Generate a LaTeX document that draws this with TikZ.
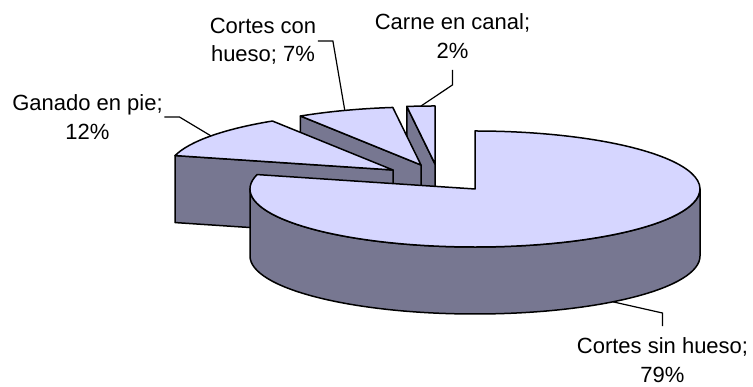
\documentclass[tikz,border=0pt]{standalone}
\usepackage{fontspec}
\setmainfont{Liberation Sans}
\definecolor{lavtop}{RGB}{214,214,255}
\definecolor{lavside}{RGB}{119,119,145}
\begin{document}
\begin{tikzpicture}[x=1pt,y=1pt,
    topface/.style={fill=lavtop,draw=black,line width=1.5pt,line join=round},
    sideface/.style={fill=lavside,draw=black,line width=1.5pt,line join=round},
    leader/.style={draw=black,line width=1.2pt},
    lbl/.style={align=center,inner sep=1.5pt,font=\fontsize{22}{28.4}\selectfont}]
    \useasboundingbox (0,0) rectangle (753,387);
    % centres of the exploded slices
    \coordinate (cCarne) at (435,223);
    \coordinate (cCon) at (421,222);
    \coordinate (cPie) at (393,217);
    \coordinate (cSin) at (475,198);
    % carne en canal, 2%
    \draw[sideface] (cCarne) -- ++(97.2:225 and 58) -- ++(0,-67) -- ([yshift=-67pt]cCarne) -- cycle;
    \draw[topface] (cCarne) -- ++(90:225 and 58) arc[start angle=90,end angle=97.2,x radius=225,y radius=58] -- cycle;
    % cortes con hueso, 7%
    \draw[sideface] (cCon) -- ++(122.4:225 and 58) -- ++(0,-67) -- ([yshift=-67pt]cCon) -- cycle;
    \draw[topface] (cCon) -- ++(97.2:225 and 58) arc[start angle=97.2,end angle=122.4,x radius=225,y radius=58] -- cycle;
    % ganado en pie, 12%
    \draw[sideface] (cPie) -- ++(165.6:225 and 58) -- ++(0,-67) -- ([yshift=-67pt]cPie) -- cycle;
    \draw[topface] (cPie) -- ++(122.4:225 and 58) arc[start angle=122.4,end angle=165.6,x radius=225,y radius=58] -- cycle;
    % cortes sin hueso, 79%
    \draw[sideface] (cSin) ++(180:225 and 58) arc[start angle=180,end angle=360,x radius=225,y radius=58] -- ++(0,-67) arc[start angle=360,end angle=180,x radius=225,y radius=58] -- cycle;
    \draw[topface] (cSin) -- ++(165.6:225 and 58) arc[start angle=165.6,end angle=450,x radius=225,y radius=58] -- cycle;
    % leader ends
    \path (cCarne) ++(93.6:225 and 58) coordinate (pCarne);
    \path (cCon) ++(109.8:225 and 58) coordinate (pCon);
    \path (cPie) ++(144:225 and 58) coordinate (pPie);
    \path (cSin) ++(0,-67) ++(-52.2:225 and 58) coordinate (pSin);
    % labels
    \node[lbl] (lblCarne) at (452.5,351) {Carne en canal;\\2\%};
    \node[lbl] (lblCon) at (263,346) {Cortes con\\hueso; 7\%};
    \node[lbl] (lblPie) at (87.5,270) {Ganado en pie;\\12\%};
    \node[lbl] (lblSin) at (662.5,27) {Cortes sin hueso;\\79\%};
    \draw[leader] (lblCarne.south) ++(0,-10) -- ++(0,-15) -- (pCarne);
    \draw[leader] (lblCon.east) -- ++(15,0) -- (pCon);
    \draw[leader] (lblPie.east) -- ++(15,0) -- (pPie);
    \draw[leader] (lblSin.north) ++(0,10) -- ++(0,13) -- (pSin);
\end{tikzpicture}
\end{document}
